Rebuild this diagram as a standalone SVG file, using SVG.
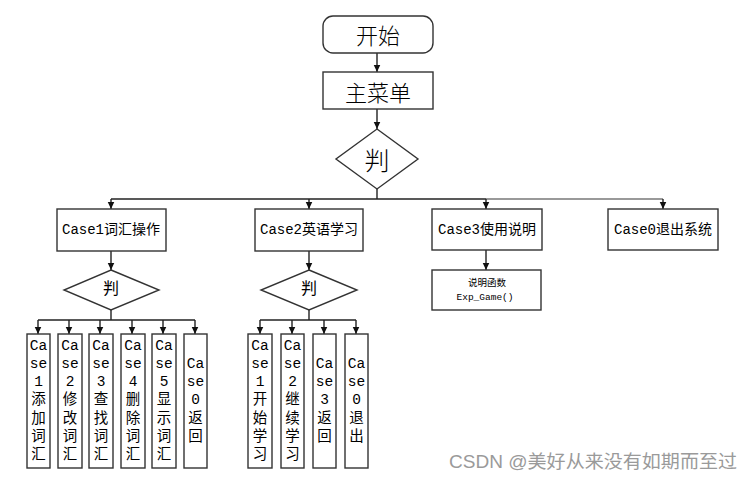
<svg xmlns="http://www.w3.org/2000/svg" width="755" height="481" viewBox="0 0 755 481">
<defs>
<marker id="ah" markerWidth="8" markerHeight="8" refX="7.5" refY="4" orient="auto" markerUnits="userSpaceOnUse" viewBox="0 0 8 8">
<path d="M0,0.5 L7.5,4 L0,7.5 Z" fill="#111"/>
</marker>
</defs>
<style>
.box{fill:#fff;stroke:#333;stroke-width:1.4}
.ln{fill:none;stroke:#222;stroke-width:1.4}
.t{font-family:"Liberation Mono","Noto Sans CJK SC",monospace;fill:#000;text-anchor:middle;dominant-baseline:central}
.big{font-family:"Noto Sans CJK SC",sans-serif;font-weight:300;font-size:22px}
.mid{font-size:14px}
.v{font-size:14.5px}
.sm{font-size:9.5px}
</style>
<rect width="755" height="481" fill="#fff"/>
<g id="connectors">
<line class="ln" x1="377" y1="53" x2="377" y2="72" marker-end="url(#ah)"/>
<line class="ln" x1="377" y1="109" x2="377" y2="129" marker-end="url(#ah)"/>
<line class="ln" x1="377" y1="189" x2="377" y2="199"/>
<line class="ln" x1="111" y1="199" x2="486" y2="199"/>
<line x1="486" y1="199" x2="663" y2="199" stroke="#777" stroke-width="1.4"/>
<line class="ln" x1="111" y1="199" x2="111" y2="209" marker-end="url(#ah)"/>
<line class="ln" x1="309" y1="199" x2="309" y2="209" marker-end="url(#ah)"/>
<line class="ln" x1="486" y1="199" x2="486" y2="209" marker-end="url(#ah)"/>
<line class="ln" x1="663" y1="199" x2="663" y2="209" marker-end="url(#ah)"/>
<line class="ln" x1="111" y1="251" x2="111" y2="270" marker-end="url(#ah)"/>
<line class="ln" x1="309" y1="251" x2="309" y2="270" marker-end="url(#ah)"/>
<line class="ln" x1="486" y1="250" x2="486" y2="270" marker-end="url(#ah)"/>
<line class="ln" x1="111" y1="310" x2="111" y2="320"/>
<line class="ln" x1="38" y1="320" x2="195" y2="320"/>
<line class="ln" x1="38" y1="320" x2="38" y2="334" marker-end="url(#ah)"/>
<line class="ln" x1="69" y1="320" x2="69" y2="334" marker-end="url(#ah)"/>
<line class="ln" x1="100" y1="320" x2="100" y2="334" marker-end="url(#ah)"/>
<line class="ln" x1="132" y1="320" x2="132" y2="334" marker-end="url(#ah)"/>
<line class="ln" x1="163" y1="320" x2="163" y2="334" marker-end="url(#ah)"/>
<line class="ln" x1="195" y1="320" x2="195" y2="334" marker-end="url(#ah)"/>
<line class="ln" x1="309" y1="310" x2="309" y2="320"/>
<line class="ln" x1="260" y1="320" x2="356" y2="320"/>
<line class="ln" x1="260" y1="320" x2="260" y2="334" marker-end="url(#ah)"/>
<line class="ln" x1="292" y1="320" x2="292" y2="334" marker-end="url(#ah)"/>
<line class="ln" x1="324" y1="320" x2="324" y2="334" marker-end="url(#ah)"/>
<line class="ln" x1="356" y1="320" x2="356" y2="334" marker-end="url(#ah)"/>
</g>
<g id="start"><rect class="box" x="323" y="16" width="110" height="37" rx="10"/><text class="t big" x="378" y="34">开始</text></g>
<g id="menu"><rect class="box" x="323" y="72" width="110" height="37"/><text class="t big" x="378" y="91">主菜单</text></g>
<g id="judge"><polygon class="box" points="377,129 418,159 377,189 336,159"/><text class="t big" x="377" y="159" style="font-size:25px">判</text></g>
<g id="case1"><rect class="box" x="57" y="209" width="109" height="42"/><text class="t mid" x="111" y="230">Case1词汇操作</text></g>
<g id="case2"><rect class="box" x="255" y="209" width="108" height="42"/><text class="t mid" x="309" y="230">Case2英语学习</text></g>
<g id="case3"><rect class="box" x="432" y="209" width="110" height="41"/><text class="t mid" x="487" y="230">Case3使用说明</text></g>
<g id="case0"><rect class="box" x="608" y="209" width="110" height="41"/><text class="t mid" x="663" y="230">Case0退出系统</text></g>
<g id="judge1"><polygon class="box" points="111,270 159,290 111,310 64,290"/><text class="t" x="111" y="290" style="font-size:16px">判</text></g>
<g id="judge2"><polygon class="box" points="309,270 357,290 309,310 261,290"/><text class="t" x="309" y="290" style="font-size:16px">判</text></g>
<g id="explain"><rect class="box" x="432" y="270" width="109" height="40"/><text class="t sm" x="487" y="283">说明函数</text><text class="t sm" x="485" y="297">Exp_Game()</text></g>
<g id="c1-1"><rect class="box" x="27" y="334" width="23" height="134"/><text class="t v" x="38.5"><tspan x="38.5" y="346">Ca</tspan><tspan x="38.5" y="364">se</tspan><tspan x="38.5" y="382">1</tspan><tspan x="38.5" y="400">添</tspan><tspan x="38.5" y="419">加</tspan><tspan x="38.5" y="437">词</tspan><tspan x="38.5" y="455">汇</tspan></text></g>
<g id="c1-2"><rect class="box" x="58" y="334" width="24" height="134"/><text class="t v"><tspan x="70" y="346">Ca</tspan><tspan x="70" y="364">se</tspan><tspan x="70" y="382">2</tspan><tspan x="70" y="400">修</tspan><tspan x="70" y="419">改</tspan><tspan x="70" y="437">词</tspan><tspan x="70" y="455">汇</tspan></text></g>
<g id="c1-3"><rect class="box" x="89" y="334" width="24" height="134"/><text class="t v"><tspan x="101" y="346">Ca</tspan><tspan x="101" y="364">se</tspan><tspan x="101" y="382">3</tspan><tspan x="101" y="400">查</tspan><tspan x="101" y="419">找</tspan><tspan x="101" y="437">词</tspan><tspan x="101" y="455">汇</tspan></text></g>
<g id="c1-4"><rect class="box" x="121" y="334" width="24" height="134"/><text class="t v"><tspan x="133" y="346">Ca</tspan><tspan x="133" y="364">se</tspan><tspan x="133" y="382">4</tspan><tspan x="133" y="400">删</tspan><tspan x="133" y="419">除</tspan><tspan x="133" y="437">词</tspan><tspan x="133" y="455">汇</tspan></text></g>
<g id="c1-5"><rect class="box" x="152" y="334" width="24" height="134"/><text class="t v"><tspan x="164" y="346">Ca</tspan><tspan x="164" y="364">se</tspan><tspan x="164" y="382">5</tspan><tspan x="164" y="400">显</tspan><tspan x="164" y="419">示</tspan><tspan x="164" y="437">词</tspan><tspan x="164" y="455">汇</tspan></text></g>
<g id="c1-0"><rect class="box" x="184" y="334" width="23" height="134"/><text class="t v"><tspan x="195.5" y="364">Ca</tspan><tspan x="195.5" y="382">se</tspan><tspan x="195.5" y="400">0</tspan><tspan x="195.5" y="419">返</tspan><tspan x="195.5" y="437">回</tspan></text></g>
<g id="c2-1"><rect class="box" x="248" y="334" width="24" height="134"/><text class="t v"><tspan x="260" y="346">Ca</tspan><tspan x="260" y="364">se</tspan><tspan x="260" y="382">1</tspan><tspan x="260" y="400">开</tspan><tspan x="260" y="419">始</tspan><tspan x="260" y="437">学</tspan><tspan x="260" y="455">习</tspan></text></g>
<g id="c2-2"><rect class="box" x="281" y="334" width="23" height="134"/><text class="t v"><tspan x="292.5" y="346">Ca</tspan><tspan x="292.5" y="364">se</tspan><tspan x="292.5" y="382">2</tspan><tspan x="292.5" y="400">继</tspan><tspan x="292.5" y="419">续</tspan><tspan x="292.5" y="437">学</tspan><tspan x="292.5" y="455">习</tspan></text></g>
<g id="c2-3"><rect class="box" x="313" y="334" width="23" height="134"/><text class="t v"><tspan x="324.5" y="364">Ca</tspan><tspan x="324.5" y="382">se</tspan><tspan x="324.5" y="400">3</tspan><tspan x="324.5" y="419">返</tspan><tspan x="324.5" y="437">回</tspan></text></g>
<g id="c2-0"><rect class="box" x="345" y="334" width="23" height="134"/><text class="t v"><tspan x="356.5" y="364">Ca</tspan><tspan x="356.5" y="382">se</tspan><tspan x="356.5" y="400">0</tspan><tspan x="356.5" y="419">退</tspan><tspan x="356.5" y="437">出</tspan></text></g>
<text x="449" y="468" style="font-family:'Liberation Sans','Noto Sans CJK SC',sans-serif;font-size:18px;fill:#9a9a9a" textLength="288" lengthAdjust="spacingAndGlyphs">CSDN @美好从来没有如期而至过</text>
</svg>
